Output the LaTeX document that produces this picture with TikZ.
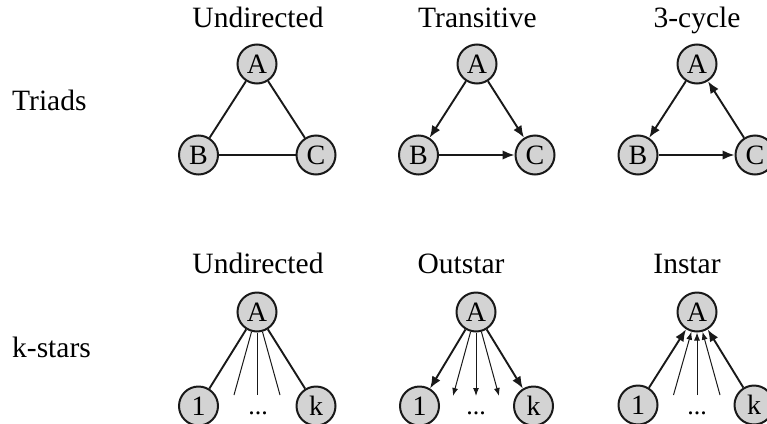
\documentclass[tikz,border=0pt]{standalone}
\usepackage{fontspec}
\setmainfont{Liberation Serif}
\usetikzlibrary{arrows.meta}
\definecolor{nodegray}{RGB}{211,211,211}
\tikzset{
  vtx/.style={circle, draw=black!90, fill=nodegray, line width=2pt, minimum size=39pt, inner sep=0pt, font=\fontsize{28}{30}\selectfont},
  ttl/.style={anchor=base, inner sep=0pt, font=\fontsize{29.5}{31}\selectfont},
  rowlbl/.style={anchor=base west, inner sep=0pt, font=\fontsize{29.5}{31}\selectfont},
  dotslbl/.style={anchor=base, inner sep=0pt, font=\fontsize{26}{28}\selectfont},
  thick edge/.style={line width=1.9pt, black!90},
  thin edge/.style={line width=1pt, black!90},
  arr/.style={thick edge, -{Latex[length=12pt,width=9.5pt]}},
  thinarr/.style={thin edge, -{Latex[length=8pt,width=6pt]}},
}
\begin{document}
\begin{tikzpicture}[x=1pt, y=-1pt]
\useasboundingbox (0,0) rectangle (767,423);
% row labels
\node[rowlbl] (rt) at (12,110) {Triads};
\node[rowlbl] (rk) at (12,357) {k-stars};
% ===== Triads =====
% Undirected
\node[ttl] (t1) at (258,27) {Undirected};
\node[vtx] (uA) at (257,64) {A};
\node[vtx] (uB) at (198.5,155) {B};
\node[vtx] (uC) at (316,155) {C};
\draw[thick edge] (uA) -- (uB);
\draw[thick edge] (uA) -- (uC);
\draw[thick edge] (uB) -- (uC);
% Transitive
\node[ttl] (t2) at (477.5,27) {Transitive};
\node[vtx] (tA) at (477,64) {A};
\node[vtx] (tB) at (418.5,155) {B};
\node[vtx] (tC) at (535,155) {C};
\draw[arr] (tA) -- (tB);
\draw[arr] (tA) -- (tC);
\draw[arr] (tB) -- (tC);
% 3-cycle
\node[ttl] (t3) at (697,27) {3-cycle};
\node[vtx] (cA) at (697,64) {A};
\node[vtx] (cB) at (638,155) {B};
\node[vtx] (cC) at (755,155) {C};
\draw[arr] (cA) -- (cB);
\draw[arr] (cB) -- (cC);
\draw[arr] (cC) -- (cA);
% ===== k-stars =====
% Undirected
\node[ttl] (t4) at (258,273) {Undirected};
\node[vtx] (sA) at (257,312) {A};
\node[vtx] (s1) at (198.5,406) {1};
\node[vtx] (sk) at (316,406) {k};
\coordinate (sa) at (234,395);
\coordinate (sb) at (257,395);
\coordinate (sc) at (280,395);
\draw[thick edge] (sA) -- (s1);
\draw[thick edge] (sA) -- (sk);
\draw[thin edge] (sA) -- (sa);
\draw[thin edge] (sA) -- (sb);
\draw[thin edge] (sA) -- (sc);
\node[dotslbl] (sd) at (258,414) {...};
% Outstar
\node[ttl] (t5) at (461,273) {Outstar};
\node[vtx] (oA) at (476,312) {A};
\node[vtx] (o1) at (419.5,406) {1};
\node[vtx] (ok) at (533.5,406) {k};
\coordinate (oa) at (453,396);
\coordinate (ob) at (476,396);
\coordinate (oc) at (499,396);
\draw[arr] (oA) -- (o1);
\draw[arr] (oA) -- (ok);
\draw[thinarr] (oA) -- (oa);
\draw[thinarr] (oA) -- (ob);
\draw[thinarr] (oA) -- (oc);
\node[dotslbl] (od) at (476,414) {...};
% Instar
\node[ttl] (t6) at (687,273) {Instar};
\node[vtx] (iA) at (697,312) {A};
\node[vtx] (i1) at (638,405) {1};
\node[vtx] (ik) at (754,405) {k};
\coordinate (ia) at (673.5,395);
\coordinate (ib) at (697,395);
\coordinate (ic) at (720,395);
\draw[arr] (i1) -- (iA);
\draw[arr] (ik) -- (iA);
\draw[thinarr] (ia) -- (iA);
\draw[thinarr] (ib) -- (iA);
\draw[thinarr] (ic) -- (iA);
\node[dotslbl] (id) at (697,414) {...};
\end{tikzpicture}
\end{document}
